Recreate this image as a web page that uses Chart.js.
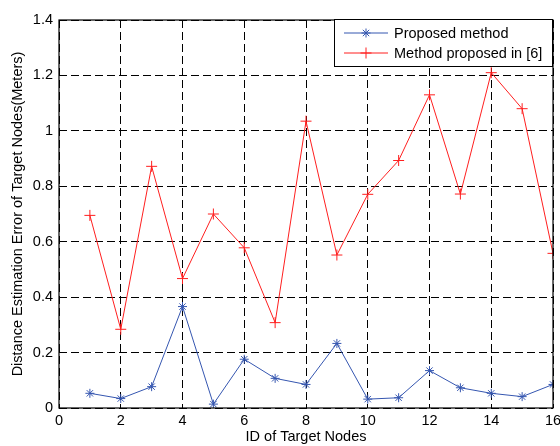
<!DOCTYPE html>
<html>
<head>
<meta charset="utf-8">
<script src="https://cdn.jsdelivr.net/npm/chart.js@4/dist/chart.umd.min.js"></script>
<style>
  html, body { margin: 0; padding: 0; background: #fff; }
  #wrap { width: 560px; height: 446px; }
</style>
</head>
<body>
<div id="wrap"><canvas id="errChart" width="560" height="446"></canvas></div>
<script>
// Data
const nodeIds = [1, 2, 3, 4, 5, 6, 7, 8, 9, 10, 11, 12, 13, 14, 15, 16];
const proposedErr = [0.053, 0.034, 0.077, 0.366, 0.014, 0.176, 0.107, 0.085, 0.233, 0.032, 0.037, 0.135, 0.073, 0.053, 0.041, 0.085];
const method6Err = [0.695, 0.284, 0.872, 0.467, 0.70, 0.578, 0.308, 1.035, 0.552, 0.771, 0.893, 1.13, 0.772, 1.21, 1.08, 0.558];
const xTickLabels = ["0", "2", "4", "6", "8", "10", "12", "14", "16"];
const yTickLabels = ["0", "0.2", "0.4", "0.6", "0.8", "1", "1.2", "1.4"];
const seriesNames = ["Proposed method", "Method proposed in [6]"];

const FONT = "'Liberation Sans', Arial, sans-serif";
const FSIZE = 14.5;
const BLUE = "#3556b0";
const RED = "#ff1f1f";

const toPoints = (vals) => vals.map((v, i) => ({ x: nodeIds[i], y: v }));

// MATLAB-like legend box in the upper right corner of the axes
const boxLegend = {
  id: "boxLegend",
  afterDatasetsDraw(chart) {
    const { ctx, chartArea } = chart;
    const w = 219, h = 48;
    const x0 = chartArea.right - w, y0 = chartArea.top - 1;
    ctx.save();
    ctx.fillStyle = "#fff";
    ctx.fillRect(x0, y0, w, h);
    ctx.strokeStyle = "#000";
    ctx.lineWidth = 1;
    ctx.strokeRect(x0 + 0.5, y0 + 0.5, w - 1, h - 1);
    ctx.font = FSIZE + "px " + FONT;
    ctx.textBaseline = "middle";
    chart.data.datasets.forEach((ds, i) => {
      const ly = y0 + 14 + i * 20;
      ctx.strokeStyle = ds.borderColor;
      ctx.beginPath();
      ctx.moveTo(x0 + 10, ly);
      ctx.lineTo(x0 + 54, ly);
      ctx.stroke();
      Chart.helpers.drawPoint(ctx, {
        pointStyle: ds.pointStyle, radius: ds.pointRadius, borderWidth: 1
      }, x0 + 32, ly);
      ctx.fillStyle = "#000";
      ctx.fillText(ds.label, x0 + 60, ly + 1);
    });
    ctx.restore();
  }
};

// solid black frame around the axes
const axesBox = {
  id: "axesBox",
  afterDatasetsDraw(chart) {
    const { ctx, chartArea: a } = chart;
    ctx.save();
    ctx.strokeStyle = "#000";
    ctx.lineWidth = 1.2;
    ctx.strokeRect(a.left, a.top, a.right - a.left, a.bottom - a.top);
    ctx.restore();
  }
};

const ctx = document.getElementById("errChart").getContext("2d");
new Chart(ctx, {
  type: "line",
  data: {
    datasets: [
      {
        label: seriesNames[0],
        data: toPoints(proposedErr),
        borderColor: BLUE,
        backgroundColor: BLUE,
        borderWidth: 1,
        pointStyle: "star",
        pointRadius: 4.5,
        pointBorderWidth: 1,
        tension: 0,
      },
      {
        label: seriesNames[1],
        data: toPoints(method6Err),
        borderColor: RED,
        backgroundColor: RED,
        borderWidth: 1,
        pointStyle: "cross",
        pointRadius: 5.5,
        pointBorderWidth: 1,
        tension: 0,
      },
    ],
  },
  options: {
    responsive: false,
    animation: false,
    layout: { padding: { top: 20, right: 7, left: 0, bottom: 0 } },
    plugins: { legend: { display: false }, tooltip: { enabled: false } },
    scales: {
      x: {
        type: "linear",
        min: 0,
        max: 16,
        afterFit: (s) => { s.height = 38; s.paddingLeft = 0; s.paddingRight = 0; },
        grid: { color: "#000", lineWidth: 1, drawTicks: false },
        border: { display: false, dash: [8, 4] },
        ticks: {
          stepSize: 2,
          padding: 4,
          color: "#000",
          font: { family: FONT, size: FSIZE },
          callback: (v) => xTickLabels[Math.round(v / 2)],
        },
        title: {
          display: true,
          text: "ID of Target Nodes",
          color: "#000",
          font: { family: FONT, size: FSIZE },
          padding: { top: 0, bottom: 0 },
        },
      },
      y: {
        min: 0,
        max: 1.4,
        afterFit: (s) => { s.width = 59; s.paddingTop = 0; s.paddingBottom = 0; },
        grid: { color: "#000", lineWidth: 1, drawTicks: false },
        border: { display: false, dash: [8, 4] },
        ticks: {
          stepSize: 0.2,
          padding: 6,
          color: "#000",
          font: { family: FONT, size: FSIZE },
          callback: (v) => yTickLabels[Math.round(v / 0.2)],
        },
        title: {
          display: true,
          text: "Distance Estimation Error of Target Nodes(Meters)",
          color: "#000",
          font: { family: FONT, size: FSIZE },
          padding: { top: 9, bottom: 0 },
        },
      },
    },
  },
  plugins: [axesBox, boxLegend],
});
</script>
</body>
</html>
